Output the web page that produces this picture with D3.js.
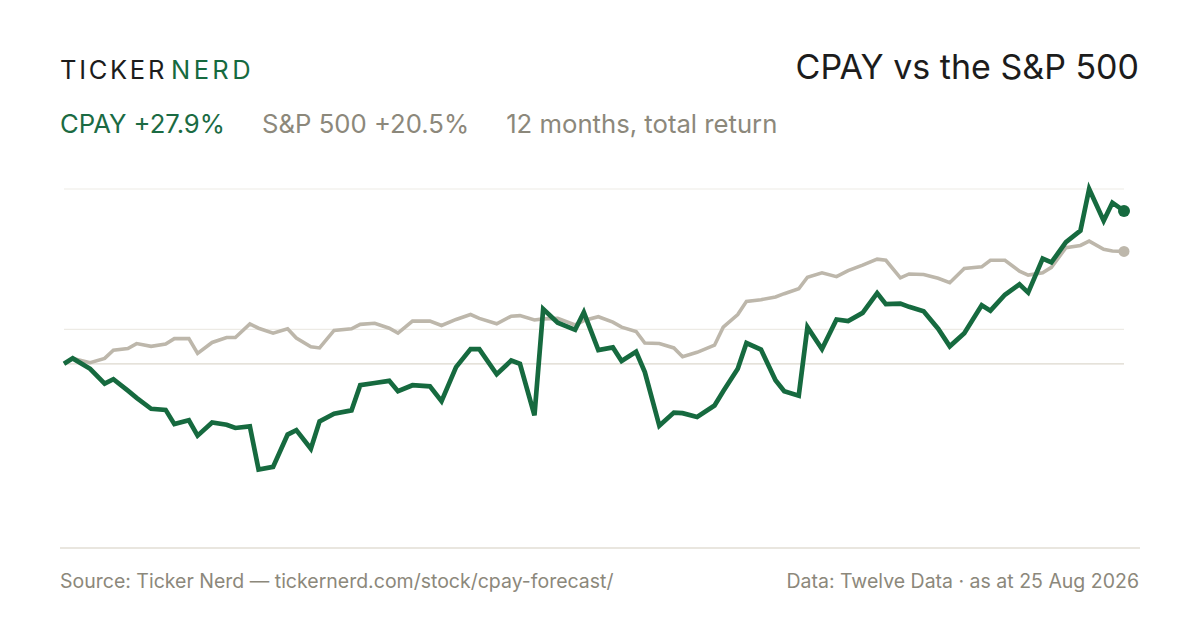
<!DOCTYPE html>
<html>
<head>
<meta charset="utf-8">
<script src="https://cdn.jsdelivr.net/npm/d3@7/dist/d3.min.js"></script>
<style>
    body { margin: 0; background: #fff; }
    svg { display: block; font-family: Inter, "Noto Sans", sans-serif; }
</style>
</head>
<body>
<div id="container"></div>
<script>
// sample dates (every third trading day)
const dates = [
    "2025-08-25", "2025-08-28", "2025-09-03", "2025-09-08", "2025-09-11", "2025-09-16", "2025-09-19",
    "2025-09-24", "2025-09-29", "2025-10-02", "2025-10-07", "2025-10-10", "2025-10-15", "2025-10-20",
    "2025-10-23", "2025-10-28", "2025-10-31", "2025-11-05", "2025-11-10", "2025-11-13", "2025-11-18",
    "2025-11-21", "2025-11-26", "2025-12-02", "2025-12-05", "2025-12-10", "2025-12-15", "2025-12-18",
    "2025-12-23", "2025-12-29", "2026-01-02", "2026-01-07", "2026-01-12", "2026-01-15", "2026-01-21",
    "2026-01-26", "2026-01-29", "2026-02-03", "2026-02-06", "2026-02-11", "2026-02-17", "2026-02-20",
    "2026-02-25", "2026-03-02", "2026-03-05", "2026-03-10", "2026-03-13", "2026-03-18", "2026-03-23",
    "2026-03-26", "2026-03-31", "2026-04-06", "2026-04-09", "2026-04-14", "2026-04-17", "2026-04-22",
    "2026-04-27", "2026-04-30", "2026-05-05", "2026-05-08", "2026-05-13", "2026-05-18", "2026-05-22",
    "2026-05-27", "2026-06-01", "2026-06-04", "2026-06-09", "2026-06-12", "2026-06-17", "2026-06-22",
    "2026-06-26", "2026-07-01", "2026-07-07", "2026-07-10", "2026-07-15", "2026-07-20", "2026-07-23",
    "2026-07-28", "2026-07-31", "2026-08-05", "2026-08-10", "2026-08-13", "2026-08-18", "2026-08-21",
    "2026-08-25"
];

// total return since start, %
const cpayReturn = [
    0.0, 1.0, -0.9, -3.6, -2.8, -4.9, -6.2, -8.2, -8.4, -11.0, -10.3, -13.1, -10.7, -11.1,
    -11.7, -11.4, -19.3, -18.8, -12.9, -12.1, -15.5, -10.5, -9.1, -8.5, -3.9, -3.5, -3.1, -5.0,
    -3.9, -4.1, -6.8, -0.6, 2.7, 2.7, -1.9, 0.6, 0.0, -9.4, 10.0, 7.5, 6.2, 9.4,
    2.5, 3.0, 0.5, 2.2, -1.5, -11.3, -8.9, -9.0, -9.7, -7.6, -5.0, -0.9, 3.8, 2.6,
    -3.0, -5.0, -5.8, 6.7, 2.7, 8.1, 7.8, 9.3, 12.9, 10.9, 11.0, 10.4, 9.6, 6.4,
    3.2, 5.6, 10.7, 9.7, 12.6, 14.5, 13.0, 19.2, 18.5, 22.2, 24.3, 31.9, 26.1, 29.4,
    27.9
];

const spxReturn = [
    0.0, 1.0, 0.2, 1.0, 2.5, 2.8, 3.7, 3.2, 3.6, 4.6, 4.6, 1.9, 3.9, 4.8,
    4.8, 7.3, 6.5, 5.6, 6.4, 4.7, 3.1, 2.9, 6.1, 6.4, 7.2, 7.4, 6.5, 5.6,
    7.8, 7.8, 7.0, 8.1, 9.0, 8.3, 7.3, 8.7, 8.8, 8.0, 8.2, 8.3, 7.1, 7.9,
    8.6, 7.6, 6.7, 5.9, 3.8, 3.7, 2.9, 1.3, 2.1, 3.4, 6.7, 9.0, 11.4, 11.7,
    12.2, 12.8, 13.7, 15.8, 16.6, 15.9, 17.0, 18.0, 19.1, 18.9, 15.7, 16.4, 16.3, 15.6,
    14.8, 17.4, 17.7, 18.9, 18.9, 16.9, 16.2, 16.6, 17.6, 21.2, 21.6, 22.4, 20.9, 20.6,
    20.5
];

// horizontal guides, %
const gridValues = [31.9, 6.3];
const yDomain = [-33.6, 31.9];

const subtitleItems = [
    { parts: ["CPAY", "+27.9%"], color: "#1b6b43" },
    { parts: ["S&P 500 +20.5%"], color: "#8c887b" },
    { parts: ["12 months, total return"], color: "#8c887b" }
];

const width = 1200, height = 630;
const green = "#166a3f", grey = "#bdb7ab", textGrey = "#8c887b";

function initUI() {

    // adds main svg
    const svg = d3.select("#container").append("svg")
        .attr("width", width)
        .attr("height", height);

    // logo
    const logo = svg.append("text")
        .attr("x", 60)
        .attr("y", 79)
        .style("font-size", "25.5px")
        .style("letter-spacing", "2.7px");
    logo.append("tspan").attr("fill", "#1c1c1c").text("TICKER");
    logo.append("tspan").attr("fill", green).attr("dx", 4).style("letter-spacing", "3.4px").text("NERD");

    // title
    svg.append("text")
        .attr("x", 1139)
        .attr("y", 79)
        .attr("text-anchor", "end")
        .attr("fill", "#1c1c1c")
        .style("font-size", "34px")
        .text("CPAY vs the S&P 500");

    // subtitle, items laid out one after another
    let sx = 60;
    subtitleItems.forEach(function(item) {
        const t = svg.append("text")
            .attr("x", sx)
            .attr("y", 133)
            .attr("fill", item.color)
            .style("font-size", "25.7px");
        item.parts.forEach(function(p, i) {
            t.append("tspan").attr("dx", i > 0 ? 9 : 0).text(p);
        });
        const box = t.node().getBBox();
        sx = box.x + box.width + 37;
    });

    // scales
    const parse = d3.timeParse("%Y-%m-%d");
    const xDates = dates.map(parse);
    const x = d3.scaleTime()
        .domain(d3.extent(xDates))
        .range([64, 1124]);
    const y = d3.scaleLinear()
        .domain(yDomain)
        .range([548, 189]);

    // grid lines
    svg.append("g")
        .selectAll("line")
        .data(gridValues)
        .join("line")
        .attr("x1", 64)
        .attr("x2", 1124)
        .attr("y1", function(d) { return y(d); })
        .attr("y2", function(d) { return y(d); })
        .attr("stroke", "#edebe5")
        .attr("stroke-width", 1.2);

    // zero line
    svg.append("line")
        .attr("x1", 64)
        .attr("x2", 1124)
        .attr("y1", y(0))
        .attr("y2", y(0))
        .attr("stroke", "#ddd8ce")
        .attr("stroke-width", 1.2);

    // bottom axis line
    svg.append("line")
        .attr("x1", 60)
        .attr("x2", 1140)
        .attr("y1", y(yDomain[0]))
        .attr("y2", y(yDomain[0]))
        .attr("stroke", "#e2ded4")
        .attr("stroke-width", 1.5);

    const line = d3.line()
        .x(function(d, i) { return x(xDates[i]); })
        .y(function(d) { return y(d); });

    // benchmark first, stock on top
    const series = [
        { values: spxReturn, color: grey, width: 3.6, r: 5.5 },
        { values: cpayReturn, color: green, width: 4.7, r: 6 }
    ];
    series.forEach(function(s) {
        svg.append("path")
            .datum(s.values)
            .attr("fill", "none")
            .attr("stroke", s.color)
            .attr("stroke-width", s.width)
            .attr("stroke-linejoin", "miter")
            .attr("d", line);

        const last = s.values.length - 1;
        svg.append("circle")
            .attr("cx", x(xDates[last]))
            .attr("cy", y(s.values[last]))
            .attr("r", s.r)
            .attr("fill", s.color);
    });

    // footer
    svg.append("text")
        .attr("x", 60)
        .attr("y", 588)
        .attr("fill", textGrey)
        .style("font-size", "19.5px")
        .text("Source: Ticker Nerd \u2014 tickernerd.com/stock/cpay-forecast/");

    svg.append("text")
        .attr("x", 1139)
        .attr("y", 588)
        .attr("text-anchor", "end")
        .attr("fill", textGrey)
        .style("font-size", "19.5px")
        .text("Data: Twelve Data \u00b7 as at 25 Aug 2026");
}

initUI();
</script>
</body>
</html>
